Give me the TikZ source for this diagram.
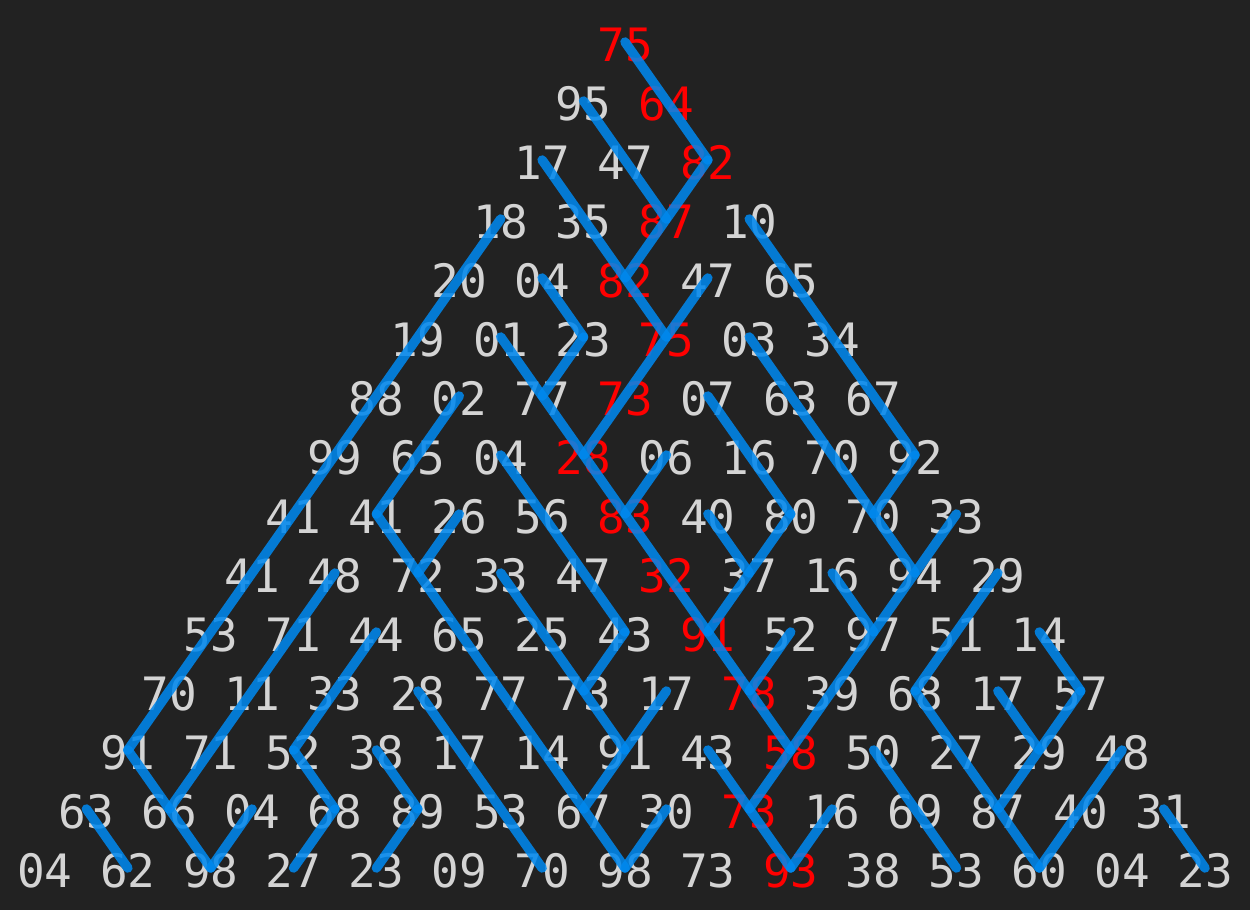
\documentclass[tikz,border=0pt]{standalone}
\usepackage{fontspec}
\newfontfamily\numfont{DejaVu Sans Mono}
\definecolor{bg}{HTML}{222222}
\definecolor{txt}{HTML}{D4D4D4}
\definecolor{hot}{HTML}{FF0000}
\definecolor{wire}{HTML}{0088EE}
\begin{document}
\begin{tikzpicture}[x=1pt,y=-1pt,
  num/.style={font=\numfont\fontsize{46}{46}\selectfont, inner sep=0pt, text height=39.6pt, text depth=0pt},
  link/.style={draw=wire, line width=9.5pt, line cap=round, draw opacity=0.87}]
\fill[bg] (0,0) rectangle (1250,910);
\useasboundingbox (0,0) rectangle (1250,910);
\foreach \row [count=\i from 0] in {
  {75},
  {95,64},
  {17,47,82},
  {18,35,87,10},
  {20,04,82,47,65},
  {19,01,23,75,03,34},
  {88,02,77,73,07,63,67},
  {99,65,04,28,06,16,70,92},
  {41,41,26,56,83,40,80,70,33},
  {41,48,72,33,47,32,37,16,94,29},
  {53,71,44,65,25,43,91,52,97,51,14},
  {70,11,33,28,77,73,17,78,39,68,17,57},
  {91,71,52,38,17,14,91,43,58,50,27,29,48},
  {63,66,04,68,89,53,67,30,73,16,69,87,40,31},
  {04,62,98,27,23,09,70,98,73,93,38,53,60,04,23}}{
  \pgfmathtruncatemacro\rj{{0,1,2,2,2,3,3,3,4,5,6,7,8,8,9}[\i]}
  \foreach \v [count=\j from 0] in \row {
    \ifnum\j=\rj\relax\def\col{hot}\else\def\col{txt}\fi
    \node[num,text=\col] (n-\i-\j) at ({625+(\j-\i/2)*82.86},{42+59*\i}) {\v};
  }
}
\foreach \a/\b in {0-0/2-2, 1-0/3-2, 2-0/5-3, 2-2/4-2, 3-0/12-0, 3-3/7-7, 4-1/5-2, 4-3/7-3,
  5-1/12-8, 5-2/6-2, 5-4/9-8, 6-1/8-1, 6-4/8-6, 7-2/10-5, 7-4/8-4, 7-7/8-7, 8-1/14-7,
  8-2/9-2, 8-5/9-6, 8-6/10-6, 8-8/13-8, 9-1/13-1, 9-3/12-6, 9-7/10-8, 9-9/11-9,
  10-2/12-2, 10-5/11-5, 10-7/11-7, 10-10/11-11, 11-3/14-6, 11-6/13-6, 11-9/14-12,
  11-10/12-11, 11-11/13-11, 12-0/14-2, 12-2/13-3, 12-3/13-4, 12-7/14-9, 12-9/14-11,
  12-12/14-12, 13-0/14-1, 13-2/14-2, 13-3/14-3, 13-4/14-4, 13-7/14-7, 13-9/14-9,
  13-13/14-14}
  \draw[link] (n-\a.center) -- (n-\b.center);
\end{tikzpicture}
\end{document}
